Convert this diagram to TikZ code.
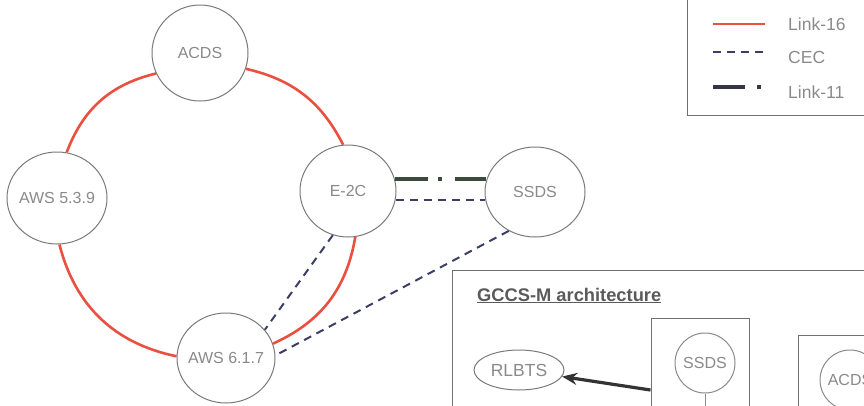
\documentclass[tikz,border=0pt]{standalone}
\usepackage{fontspec}
\setmainfont{Liberation Sans}
\usetikzlibrary{shapes.geometric,arrows.meta}
\definecolor{linkred}{HTML}{E9503F}
\definecolor{cecblue}{HTML}{3B3F66}
\definecolor{linkgreen}{HTML}{3C4A3E}
\definecolor{legdark}{HTML}{363646}
\definecolor{nodegray}{HTML}{7A7A7A}
\definecolor{textgray}{HTML}{8A8A8A}
\definecolor{boxgray}{HTML}{707070}
\definecolor{titlegray}{HTML}{5A5A5A}
\definecolor{arrowdark}{HTML}{333333}
\newcommand\zw[1]{\makebox[0pt]{#1}}
\begin{document}
\begin{tikzpicture}[x=1pt,y=-1pt,
  sys/.style={ellipse, draw=nodegray, line width=1pt, fill=white, text=textgray,
    font=\fontsize{16}{18}\selectfont, inner sep=0pt},
  l16/.style={draw=linkred, line width=2.6pt},
  cec/.style={draw=cecblue, line width=2pt, dash pattern=on 8pt off 6pt},
  l11/.style={draw=linkgreen, line width=4pt, dash pattern=on 33pt off 10pt on 4pt off 13pt},
  boxline/.style={draw=boxgray, line width=1pt},
  legtext/.style={anchor=west, text=textgray, font=\fontsize{17.5}{20}\selectfont, inner sep=0pt}]
\useasboundingbox (0,0) rectangle (864,405);
\clip (0,0) rectangle (864,405);

% main nodes
\node[sys, minimum width=96pt, minimum height=96pt] (ACDS) at (200,53) {\zw{ACDS}};
\node[sys, minimum width=100pt, minimum height=92pt] (AWS539) at (57,198) {\zw{AWS 5.3.9}};
\node[sys, minimum width=96pt, minimum height=92pt] (E2C) at (348,191) {\zw{E-2C}};
\node[sys, minimum width=100pt, minimum height=90pt] (SSDS) at (535,192) {\zw{SSDS}};
\node[sys, minimum width=98pt, minimum height=90pt] (AWS617) at (226,358) {\zw{AWS 6.1.7}};

% Link-16
\draw[l16] (ACDS.205) to[bend right=28] (AWS539.78);
\draw[l16] (ACDS.-19) to[bend left=25] (E2C.96);
\draw[l16] (AWS539.273) to[bend right=32] (AWS617.178);
\draw[l16] (E2C.279) to[bend left=28] (AWS617.17);

% CEC
\draw[cec] (E2C.251) -- (AWS617.36);
\draw[cec] (SSDS.236) -- (AWS617.3);
\draw[cec] (E2C.-11) -- (E2C.-11 -| SSDS.190);

% Link-11
\draw[l11] (E2C.14) -- (E2C.14 -| SSDS.166);

% legend
\draw[boxline] (687,-5) rectangle (880,115);
\draw[linkred, line width=2.6pt] (713,24) -- (765,24);
\node[legtext] (lg16) at (788,24) {Link-16};
\draw[cec] (713,52) -- (765,52);
\node[legtext] (lgcec) at (788,57) {CEC};
\draw[legdark, line width=4pt, dash pattern=on 32pt off 12pt on 4pt off 100pt] (713,87) -- (762,87);
\node[legtext] (lg11) at (788,92) {Link-11};

% GCCS-M architecture
\draw[boxline] (452,270) rectangle (880,420);
\node[anchor=base west, font=\bfseries\fontsize{18.3}{21}\selectfont, text=titlegray, inner sep=0pt] (title) at (477,301) {\underline{GCCS-M architecture}};
\node[boxline, minimum width=98pt, minimum height=120pt, inner sep=0pt] (gbox1) at (700,378) {};
\node[boxline, minimum width=100pt, minimum height=100pt, inner sep=0pt] (gbox2) at (848,385) {};
\node[sys, draw=textgray, minimum size=60pt] (gSSDS) at (705,363) {\zw{SSDS}};
\node[sys, draw=textgray, minimum size=60pt] (gACDS) at (850,380) {\zw{ACDS}};
\node[sys, minimum width=90pt, minimum height=40pt, font=\fontsize{17.5}{20}\selectfont] (RLBTS) at (519,370) {\zw{RLBTS}};
\coordinate (gdown) at (705,410);
\draw[draw=textgray, line width=1pt] (gSSDS.south) -- (gSSDS.south |- gdown);
\draw[arrowdark, line width=3.2pt, -{Stealth[length=15pt,width=12pt]}] ([yshift=-12pt]gbox1.west) -- (RLBTS);
\end{tikzpicture}
\end{document}
